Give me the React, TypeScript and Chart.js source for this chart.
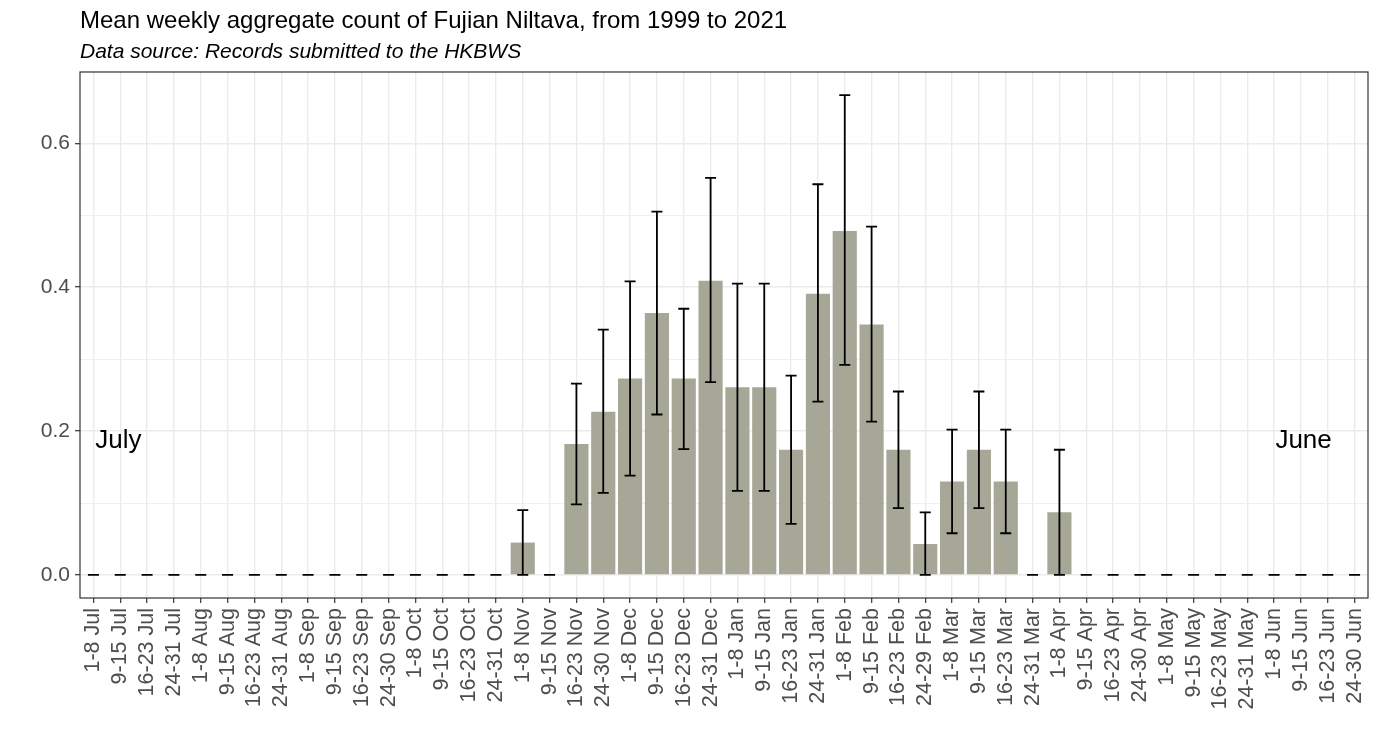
import React, { useEffect, useRef } from "react";
import { Chart, registerables } from "chart.js";

Chart.register(...registerables);

const weekLabels = [
  "1-8 Jul", "9-15 Jul", "16-23 Jul", "24-31 Jul",
  "1-8 Aug", "9-15 Aug", "16-23 Aug", "24-31 Aug",
  "1-8 Sep", "9-15 Sep", "16-23 Sep", "24-30 Sep",
  "1-8 Oct", "9-15 Oct", "16-23 Oct", "24-31 Oct",
  "1-8 Nov", "9-15 Nov", "16-23 Nov", "24-30 Nov",
  "1-8 Dec", "9-15 Dec", "16-23 Dec", "24-31 Dec",
  "1-8 Jan", "9-15 Jan", "16-23 Jan", "24-31 Jan",
  "1-8 Feb", "9-15 Feb", "16-23 Feb", "24-29 Feb",
  "1-8 Mar", "9-15 Mar", "16-23 Mar", "24-31 Mar",
  "1-8 Apr", "9-15 Apr", "16-23 Apr", "24-30 Apr",
  "1-8 May", "9-15 May", "16-23 May", "24-31 May",
  "1-8 Jun", "9-15 Jun", "16-23 Jun", "24-30 Jun",
];

const meanCounts = [
  0, 0, 0, 0,
  0, 0, 0, 0,
  0, 0, 0, 0,
  0, 0, 0, 0,
  0.045, 0, 0.182, 0.227,
  0.273, 0.364, 0.273, 0.409,
  0.261, 0.261, 0.174, 0.391,
  0.478, 0.348, 0.174, 0.043,
  0.130, 0.174, 0.130, 0,
  0.087, 0, 0, 0,
  0, 0, 0, 0,
  0, 0, 0, 0,
];

const lowerBounds = [
  0, 0, 0, 0,
  0, 0, 0, 0,
  0, 0, 0, 0,
  0, 0, 0, 0,
  0, 0, 0.098, 0.114,
  0.138, 0.223, 0.175, 0.268,
  0.117, 0.117, 0.071, 0.241,
  0.292, 0.213, 0.093, 0,
  0.058, 0.093, 0.058, 0,
  0, 0, 0, 0,
  0, 0, 0, 0,
  0, 0, 0, 0,
];

const upperBounds = [
  0, 0, 0, 0,
  0, 0, 0, 0,
  0, 0, 0, 0,
  0, 0, 0, 0,
  0.090, 0, 0.266, 0.341,
  0.408, 0.505, 0.370, 0.552,
  0.405, 0.405, 0.277, 0.543,
  0.667, 0.484, 0.255, 0.087,
  0.202, 0.255, 0.202, 0,
  0.174, 0, 0, 0,
  0, 0, 0, 0,
  0, 0, 0, 0,
];

const yGridValues = [0, 0.1, 0.2, 0.3, 0.4, 0.5, 0.6];
const yMajorValues = [0, 0.2, 0.4, 0.6];

const titleText = "Mean weekly aggregate count of Fujian Niltava, from 1999 to 2021";
const subtitleText = "Data source: Records submitted to the HKBWS";

const seasonNoteLabels = ["July", "June"];
const seasonNoteIndex = [0.93, 45.1];
const seasonNoteValue = [0.187, 0.187];

const FONT = "'Liberation Sans', Arial, Helvetica, sans-serif";

const isMajor = (v: number) => yMajorValues.some((m) => Math.abs(m - v) < 1e-6);

const errorBarPlugin = {
  id: "errorBars",
  afterDatasetsDraw(chart: any) {
    const { ctx, scales } = chart;
    const xs = scales.x;
    const ys = scales.y;
    const half = 5.5;
    ctx.save();
    ctx.strokeStyle = "#000000";
    ctx.lineWidth = 1.8;
    ctx.lineCap = "butt";
    for (let i = 0; i < weekLabels.length; i++) {
      const px = xs.getPixelForValue(i);
      const lo = ys.getPixelForValue(lowerBounds[i]);
      const hi = ys.getPixelForValue(upperBounds[i]);
      ctx.beginPath();
      ctx.moveTo(px, lo);
      ctx.lineTo(px, hi);
      ctx.moveTo(px - half, lo);
      ctx.lineTo(px + half, lo);
      ctx.moveTo(px - half, hi);
      ctx.lineTo(px + half, hi);
      ctx.stroke();
    }
    ctx.fillStyle = "#000000";
    ctx.font = `26px ${FONT}`;
    ctx.textAlign = "center";
    ctx.textBaseline = "middle";
    for (let k = 0; k < seasonNoteLabels.length; k++) {
      ctx.fillText(
        seasonNoteLabels[k],
        xs.getPixelForValue(seasonNoteIndex[k]),
        ys.getPixelForValue(seasonNoteValue[k])
      );
    }
    ctx.restore();
  },
  afterDraw(chart: any) {
    const { ctx, chartArea } = chart;
    ctx.save();
    ctx.strokeStyle = "#333333";
    ctx.lineWidth = 1.2;
    ctx.strokeRect(chartArea.left, chartArea.top, chartArea.right - chartArea.left, chartArea.bottom - chartArea.top);
    ctx.fillStyle = "#000000";
    ctx.textAlign = "left";
    ctx.textBaseline = "alphabetic";
    ctx.font = `24px ${FONT}`;
    ctx.fillText(titleText, chartArea.left, 27.5);
    ctx.font = `italic 21px ${FONT}`;
    ctx.fillText(subtitleText, chartArea.left, 57.5);
    ctx.restore();
  },
};

export default function App() {
  const canvasRef = useRef<HTMLCanvasElement | null>(null);

  useEffect(() => {
    if (!canvasRef.current) return;
    const chart = new Chart(canvasRef.current, {
      type: "bar",
      data: {
        labels: weekLabels,
        datasets: [
          {
            data: meanCounts,
            backgroundColor: "rgb(166,167,151)",
            borderWidth: 0,
            barPercentage: 0.9,
            categoryPercentage: 1.0,
          },
        ],
      },
      plugins: [errorBarPlugin],
      options: {
        animation: false,
        responsive: true,
        maintainAspectRatio: false,
        layout: { padding: { left: 0, right: 11, top: 72, bottom: 0 } },
        plugins: {
          legend: { display: false },
          tooltip: { enabled: false },
          title: { display: false },
        },
        scales: {
          x: {
            type: "category",
            offset: true,
            grid: {
              offset: false,
              color: "#ebebeb",
              lineWidth: 1.4,
              drawTicks: true,
              tickLength: 5,
              tickColor: "#333333",
              tickWidth: 1.2,
            },
            border: { display: false },
            ticks: {
              autoSkip: false,
              minRotation: 90,
              maxRotation: 90,
              padding: 5,
              color: "#4d4d4d",
              font: { family: FONT, size: 21.5 },
            },
            afterFit(scale: any) {
              scale.height = 154;
              scale.paddingLeft = 0;
              scale.paddingRight = 0;
            },
          },
          y: {
            type: "linear",
            min: -0.032,
            max: 0.699,
            grid: {
              color: (c: any) => (c.tick && isMajor(c.tick.value) ? "#ebebeb" : "#f0f0f0"),
              lineWidth: (c: any) => (c.tick && isMajor(c.tick.value) ? 1.4 : 1),
              drawTicks: true,
              tickLength: 5,
              tickColor: (c: any) => (c.tick && isMajor(c.tick.value) ? "#333333" : "rgba(0,0,0,0)"),
              tickWidth: 1.2,
            },
            border: { display: false },
            ticks: {
              padding: 5,
              color: "#4d4d4d",
              font: { family: FONT, size: 21 },
              callback: (v: any) => (isMajor(Number(v)) ? Number(v).toFixed(1) : ""),
            },
            afterBuildTicks(scale: any) {
              scale.ticks = yGridValues.map((v) => ({ value: v }));
            },
            afterFit(scale: any) {
              scale.width = 80;
              scale.paddingTop = 0;
              scale.paddingBottom = 0;
            },
          },
        },
      },
    });
    return () => chart.destroy();
  }, []);

  return (
    <div style={{ position: "fixed", left: 0, top: 0, width: 1379, height: 752, background: "#ffffff" }}>
      <canvas ref={canvasRef} />
    </div>
  );
}
